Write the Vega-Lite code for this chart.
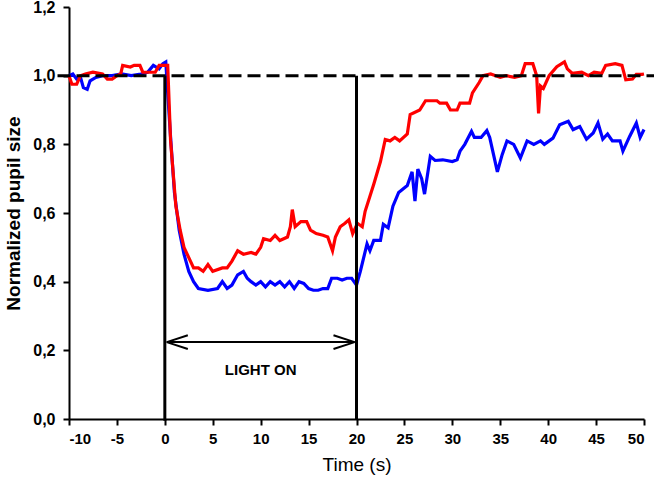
{
  "$schema": "https://vega.github.io/schema/vega-lite/v6.json",
  "autosize": "none",
  "padding": {"left": 69, "top": 7, "right": 10, "bottom": 65},
  "width": 575,
  "height": 412,
  "datasets": {
    "pupil": [
      {"t": -10, "v": 1.0, "s": "blue"}, {"t": -9.6, "v": 1.005, "s": "blue"}, {"t": -9.2, "v": 0.99, "s": "blue"},
      {"t": -8.8, "v": 0.995, "s": "blue"}, {"t": -8.5, "v": 0.965, "s": "blue"}, {"t": -8.1, "v": 0.96, "s": "blue"},
      {"t": -7.8, "v": 0.985, "s": "blue"}, {"t": -7.2, "v": 0.995, "s": "blue"}, {"t": -6.5, "v": 1.0, "s": "blue"},
      {"t": -5.5, "v": 1.0, "s": "blue"}, {"t": -4.5, "v": 1.005, "s": "blue"}, {"t": -3.5, "v": 1.0, "s": "blue"},
      {"t": -2.5, "v": 1.005, "s": "blue"}, {"t": -1.8, "v": 1.01, "s": "blue"}, {"t": -1.2, "v": 1.03, "s": "blue"},
      {"t": -0.6, "v": 1.02, "s": "blue"}, {"t": -0.2, "v": 1.035, "s": "blue"}, {"t": 0.1, "v": 1.04, "s": "blue"},
      {"t": 0.3, "v": 0.95, "s": "blue"}, {"t": 0.6, "v": 0.82, "s": "blue"}, {"t": 1.0, "v": 0.66, "s": "blue"},
      {"t": 1.5, "v": 0.55, "s": "blue"}, {"t": 2.0, "v": 0.48, "s": "blue"}, {"t": 2.5, "v": 0.43, "s": "blue"},
      {"t": 3.0, "v": 0.40, "s": "blue"}, {"t": 3.5, "v": 0.38, "s": "blue"}, {"t": 4.5, "v": 0.375, "s": "blue"},
      {"t": 5.5, "v": 0.38, "s": "blue"}, {"t": 6.0, "v": 0.40, "s": "blue"}, {"t": 6.5, "v": 0.38, "s": "blue"},
      {"t": 7.0, "v": 0.39, "s": "blue"}, {"t": 7.6, "v": 0.42, "s": "blue"}, {"t": 8.2, "v": 0.43, "s": "blue"},
      {"t": 8.6, "v": 0.41, "s": "blue"}, {"t": 9.0, "v": 0.40, "s": "blue"}, {"t": 9.5, "v": 0.39, "s": "blue"},
      {"t": 10.0, "v": 0.40, "s": "blue"}, {"t": 10.5, "v": 0.385, "s": "blue"}, {"t": 11.0, "v": 0.40, "s": "blue"},
      {"t": 11.5, "v": 0.39, "s": "blue"}, {"t": 12.0, "v": 0.40, "s": "blue"}, {"t": 12.5, "v": 0.385, "s": "blue"},
      {"t": 13.0, "v": 0.40, "s": "blue"}, {"t": 13.5, "v": 0.38, "s": "blue"}, {"t": 14.0, "v": 0.40, "s": "blue"},
      {"t": 14.5, "v": 0.395, "s": "blue"}, {"t": 15.0, "v": 0.38, "s": "blue"}, {"t": 15.5, "v": 0.375, "s": "blue"},
      {"t": 16.0, "v": 0.375, "s": "blue"}, {"t": 16.5, "v": 0.38, "s": "blue"}, {"t": 17.0, "v": 0.38, "s": "blue"},
      {"t": 17.4, "v": 0.41, "s": "blue"}, {"t": 18.0, "v": 0.41, "s": "blue"}, {"t": 18.5, "v": 0.405, "s": "blue"},
      {"t": 19.0, "v": 0.41, "s": "blue"}, {"t": 19.5, "v": 0.41, "s": "blue"}, {"t": 20.0, "v": 0.39, "s": "blue"},
      {"t": 20.4, "v": 0.43, "s": "blue"}, {"t": 21.1, "v": 0.51, "s": "blue"}, {"t": 21.4, "v": 0.49, "s": "blue"},
      {"t": 21.8, "v": 0.52, "s": "blue"}, {"t": 22.5, "v": 0.52, "s": "blue"}, {"t": 22.8, "v": 0.567, "s": "blue"},
      {"t": 23.3, "v": 0.557, "s": "blue"}, {"t": 23.8, "v": 0.62, "s": "blue"}, {"t": 24.4, "v": 0.66, "s": "blue"},
      {"t": 25.3, "v": 0.68, "s": "blue"}, {"t": 25.8, "v": 0.72, "s": "blue"}, {"t": 26.1, "v": 0.635, "s": "blue"},
      {"t": 26.4, "v": 0.728, "s": "blue"}, {"t": 26.8, "v": 0.70, "s": "blue"}, {"t": 27.1, "v": 0.655, "s": "blue"},
      {"t": 27.7, "v": 0.765, "s": "blue"}, {"t": 28.2, "v": 0.753, "s": "blue"}, {"t": 29.0, "v": 0.755, "s": "blue"},
      {"t": 30.0, "v": 0.75, "s": "blue"}, {"t": 30.5, "v": 0.755, "s": "blue"}, {"t": 30.8, "v": 0.78, "s": "blue"},
      {"t": 31.3, "v": 0.80, "s": "blue"}, {"t": 32.0, "v": 0.838, "s": "blue"}, {"t": 32.3, "v": 0.82, "s": "blue"},
      {"t": 33.0, "v": 0.82, "s": "blue"}, {"t": 33.6, "v": 0.84, "s": "blue"}, {"t": 33.9, "v": 0.82, "s": "blue"},
      {"t": 34.3, "v": 0.77, "s": "blue"}, {"t": 34.7, "v": 0.72, "s": "blue"}, {"t": 35.2, "v": 0.77, "s": "blue"},
      {"t": 35.7, "v": 0.81, "s": "blue"}, {"t": 36.4, "v": 0.80, "s": "blue"}, {"t": 37.1, "v": 0.76, "s": "blue"},
      {"t": 37.8, "v": 0.81, "s": "blue"}, {"t": 38.5, "v": 0.80, "s": "blue"}, {"t": 39.2, "v": 0.81, "s": "blue"},
      {"t": 39.6, "v": 0.80, "s": "blue"}, {"t": 40.5, "v": 0.818, "s": "blue"}, {"t": 41.2, "v": 0.857, "s": "blue"},
      {"t": 42.1, "v": 0.867, "s": "blue"}, {"t": 42.6, "v": 0.843, "s": "blue"}, {"t": 43.3, "v": 0.852, "s": "blue"},
      {"t": 44.0, "v": 0.815, "s": "blue"}, {"t": 44.7, "v": 0.833, "s": "blue"}, {"t": 45.2, "v": 0.862, "s": "blue"},
      {"t": 45.7, "v": 0.815, "s": "blue"}, {"t": 46.2, "v": 0.83, "s": "blue"}, {"t": 46.7, "v": 0.81, "s": "blue"},
      {"t": 47.5, "v": 0.81, "s": "blue"}, {"t": 47.8, "v": 0.78, "s": "blue"}, {"t": 48.5, "v": 0.823, "s": "blue"},
      {"t": 49.2, "v": 0.862, "s": "blue"}, {"t": 49.6, "v": 0.82, "s": "blue"}, {"t": 50.0, "v": 0.843, "s": "blue"},

      {"t": -10, "v": 1.0, "s": "red"}, {"t": -9.7, "v": 0.975, "s": "red"}, {"t": -9.2, "v": 0.975, "s": "red"},
      {"t": -8.8, "v": 1.0, "s": "red"}, {"t": -8.3, "v": 1.005, "s": "red"}, {"t": -7.5, "v": 1.01, "s": "red"},
      {"t": -6.5, "v": 1.005, "s": "red"}, {"t": -6.0, "v": 0.99, "s": "red"}, {"t": -5.5, "v": 0.99, "s": "red"},
      {"t": -5.0, "v": 1.0, "s": "red"}, {"t": -4.6, "v": 1.005, "s": "red"}, {"t": -4.4, "v": 1.03, "s": "red"},
      {"t": -3.6, "v": 1.025, "s": "red"}, {"t": -3.2, "v": 1.03, "s": "red"}, {"t": -2.6, "v": 1.03, "s": "red"},
      {"t": -2.3, "v": 1.01, "s": "red"}, {"t": -1.0, "v": 1.01, "s": "red"}, {"t": -0.6, "v": 1.03, "s": "red"},
      {"t": 0.3, "v": 1.03, "s": "red"}, {"t": 0.6, "v": 0.81, "s": "red"}, {"t": 1.15, "v": 0.62, "s": "red"},
      {"t": 1.6, "v": 0.55, "s": "red"}, {"t": 2.0, "v": 0.50, "s": "red"}, {"t": 2.5, "v": 0.47, "s": "red"},
      {"t": 3.0, "v": 0.44, "s": "red"}, {"t": 3.5, "v": 0.44, "s": "red"}, {"t": 4.0, "v": 0.43, "s": "red"},
      {"t": 4.5, "v": 0.45, "s": "red"}, {"t": 5.0, "v": 0.43, "s": "red"}, {"t": 6.0, "v": 0.44, "s": "red"},
      {"t": 6.5, "v": 0.44, "s": "red"}, {"t": 7.0, "v": 0.46, "s": "red"}, {"t": 7.6, "v": 0.49, "s": "red"},
      {"t": 8.2, "v": 0.48, "s": "red"}, {"t": 9.0, "v": 0.485, "s": "red"}, {"t": 9.5, "v": 0.48, "s": "red"},
      {"t": 10.0, "v": 0.50, "s": "red"}, {"t": 10.3, "v": 0.525, "s": "red"}, {"t": 11.0, "v": 0.52, "s": "red"},
      {"t": 11.5, "v": 0.535, "s": "red"}, {"t": 12.0, "v": 0.52, "s": "red"}, {"t": 12.8, "v": 0.53, "s": "red"},
      {"t": 13.1, "v": 0.56, "s": "red"}, {"t": 13.3, "v": 0.61, "s": "red"}, {"t": 13.6, "v": 0.56, "s": "red"},
      {"t": 14.2, "v": 0.575, "s": "red"}, {"t": 14.8, "v": 0.575, "s": "red"}, {"t": 15.2, "v": 0.55, "s": "red"},
      {"t": 15.8, "v": 0.54, "s": "red"}, {"t": 16.5, "v": 0.535, "s": "red"}, {"t": 17.0, "v": 0.53, "s": "red"},
      {"t": 17.5, "v": 0.49, "s": "red"}, {"t": 17.8, "v": 0.53, "s": "red"}, {"t": 18.3, "v": 0.56, "s": "red"},
      {"t": 18.8, "v": 0.57, "s": "red"}, {"t": 19.2, "v": 0.58, "s": "red"}, {"t": 19.6, "v": 0.54, "s": "red"},
      {"t": 20.1, "v": 0.57, "s": "red"}, {"t": 20.6, "v": 0.56, "s": "red"}, {"t": 20.9, "v": 0.605, "s": "red"},
      {"t": 21.8, "v": 0.684, "s": "red"}, {"t": 22.5, "v": 0.75, "s": "red"}, {"t": 23.0, "v": 0.814, "s": "red"},
      {"t": 23.5, "v": 0.81, "s": "red"}, {"t": 24.0, "v": 0.82, "s": "red"}, {"t": 24.5, "v": 0.81, "s": "red"},
      {"t": 25.3, "v": 0.83, "s": "red"}, {"t": 25.6, "v": 0.887, "s": "red"}, {"t": 26.6, "v": 0.90, "s": "red"},
      {"t": 27.2, "v": 0.927, "s": "red"}, {"t": 28.4, "v": 0.927, "s": "red"}, {"t": 28.7, "v": 0.92, "s": "red"},
      {"t": 29.4, "v": 0.92, "s": "red"}, {"t": 29.8, "v": 0.90, "s": "red"}, {"t": 30.5, "v": 0.90, "s": "red"},
      {"t": 30.8, "v": 0.92, "s": "red"}, {"t": 31.8, "v": 0.92, "s": "red"}, {"t": 32.1, "v": 0.95, "s": "red"},
      {"t": 32.8, "v": 0.98, "s": "red"}, {"t": 33.2, "v": 1.0, "s": "red"}, {"t": 34.0, "v": 1.005, "s": "red"},
      {"t": 35.0, "v": 0.995, "s": "red"}, {"t": 35.6, "v": 1.0, "s": "red"}, {"t": 36.5, "v": 0.995, "s": "red"},
      {"t": 37.2, "v": 1.0, "s": "red"}, {"t": 37.6, "v": 1.035, "s": "red"}, {"t": 38.4, "v": 1.035, "s": "red"},
      {"t": 38.8, "v": 1.0, "s": "red"}, {"t": 39.0, "v": 0.89, "s": "red"}, {"t": 39.2, "v": 0.97, "s": "red"},
      {"t": 39.5, "v": 0.963, "s": "red"}, {"t": 40.1, "v": 1.0, "s": "red"}, {"t": 40.9, "v": 1.026, "s": "red"},
      {"t": 41.7, "v": 1.04, "s": "red"}, {"t": 42.0, "v": 1.02, "s": "red"}, {"t": 42.5, "v": 1.007, "s": "red"},
      {"t": 43.5, "v": 1.01, "s": "red"}, {"t": 44.2, "v": 1.0, "s": "red"}, {"t": 44.8, "v": 1.01, "s": "red"},
      {"t": 45.6, "v": 1.007, "s": "red"}, {"t": 46.0, "v": 1.03, "s": "red"}, {"t": 47.0, "v": 1.035, "s": "red"},
      {"t": 47.7, "v": 1.03, "s": "red"}, {"t": 48.1, "v": 0.988, "s": "red"}, {"t": 48.8, "v": 0.99, "s": "red"},
      {"t": 49.2, "v": 1.004, "s": "red"}, {"t": 49.8, "v": 1.004, "s": "red"}, {"t": 50.0, "v": 1.005, "s": "red"}
    ],
    "bars": [
      {"x": 0, "x2": 0, "y": -0.005, "y2": 1.0},
      {"x": 20, "x2": 20, "y": 0, "y2": 1.0}
    ],
    "arrow": [
      {"x": 0.2, "x2": 19.8, "y": 0.224, "y2": 0.224},
      {"x": 0.2, "x2": 2.4, "y": 0.224, "y2": 0.244},
      {"x": 0.2, "x2": 2.4, "y": 0.224, "y2": 0.204},
      {"x": 19.8, "x2": 17.6, "y": 0.224, "y2": 0.244},
      {"x": 19.8, "x2": 17.6, "y": 0.224, "y2": 0.204}
    ],
    "baseline": [{"x": -11.2, "x2": 51.1, "y": 1.0}],
    "label": [{"x": 10, "y": 0.142, "text": "LIGHT ON"}]
  },
  "layer": [
    {
      "data": {"name": "pupil"},
      "mark": {"type": "line", "strokeWidth": 3.2, "strokeJoin": "miter"},
      "encoding": {
        "x": {
          "field": "t",
          "type": "quantitative",
          "title": "Time (s)",
          "scale": {"domain": [-10, 50], "nice": false, "zero": false},
          "axis": {
            "values": [-10, -5, 0, 5, 10, 15, 20, 25, 30, 35, 40, 45, 50],
            "labelExpr": "'' + datum.value"
          }
        },
        "y": {
          "field": "v",
          "type": "quantitative",
          "title": "Normalized pupil size",
          "scale": {"domain": [0, 1.2], "nice": false},
          "axis": {
            "values": [0, 0.2, 0.4, 0.6, 0.8, 1.0, 1.2],
            "labelExpr": "replace(format(datum.value, '.1f'), '.', ',')"
          }
        },
        "color": {
          "field": "s",
          "type": "nominal",
          "scale": {"domain": ["blue", "red"], "range": ["#0000ff", "#ff0000"]},
          "legend": null
        }
      }
    },
    {
      "data": {"name": "baseline"},
      "mark": {"type": "rule", "strokeWidth": 3, "strokeDash": [13, 6], "color": "black"},
      "encoding": {
        "x": {"field": "x", "type": "quantitative"},
        "x2": {"field": "x2"},
        "y": {"field": "y", "type": "quantitative"}
      }
    },
    {
      "data": {"name": "bars"},
      "mark": {"type": "rule", "strokeWidth": 3, "color": "black"},
      "encoding": {
        "x": {"field": "x", "type": "quantitative"},
        "x2": {"field": "x2"},
        "y": {"field": "y", "type": "quantitative"},
        "y2": {"field": "y2"}
      }
    },
    {
      "data": {"name": "arrow"},
      "mark": {"type": "rule", "strokeWidth": 2, "color": "black"},
      "encoding": {
        "x": {"field": "x", "type": "quantitative"},
        "x2": {"field": "x2"},
        "y": {"field": "y", "type": "quantitative"},
        "y2": {"field": "y2"}
      }
    },
    {
      "data": {"name": "label"},
      "mark": {"type": "text", "font": "Liberation Sans", "fontWeight": "bold", "fontSize": 15, "color": "black"},
      "encoding": {
        "x": {"field": "x", "type": "quantitative"},
        "y": {"field": "y", "type": "quantitative"},
        "text": {"field": "text"}
      }
    }
  ],
  "config": {
    "view": {"stroke": null},
    "axis": {
      "grid": false,
      "domainColor": "black",
      "domainWidth": 2,
      "tickColor": "black",
      "tickWidth": 2,
      "tickSize": 6,
      "labelFont": "Liberation Sans",
      "labelFontWeight": "bold",
      "labelFontSize": 15,
      "labelColor": "black",
      "titleFont": "Liberation Sans",
      "titleColor": "black"
    },
    "axisX": {"labelPadding": 6, "titleFontWeight": "normal", "titleFontSize": 19, "titlePadding": 9},
    "axisY": {"labelPadding": 8, "labelFontSize": 16, "titleFontWeight": "bold", "titleFontSize": 19, "titlePadding": 9}
  }
}
